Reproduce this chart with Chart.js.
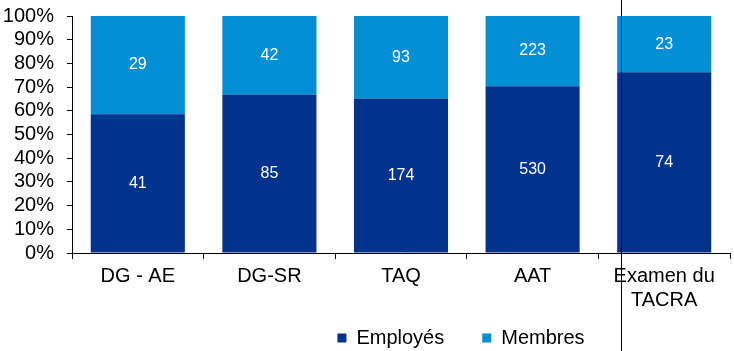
<!DOCTYPE html>
<html>
<head>
    <meta charset="utf-8">
    <title>Employés et membres</title>
    <style>
        body { margin: 0; background: #fff; }
        #wrap { width: 734px; height: 351px; }
    </style>
</head>
<body>
    <div id="wrap"><canvas id="chart"></canvas></div>

    <script src="https://cdn.jsdelivr.net/npm/chart.js"></script>
    <script>
        const categories = ['DG - AE', 'DG-SR', 'TAQ', 'AAT', ['Examen du', 'TACRA']];
        const employes = [41, 85, 174, 530, 74];
        const membres = [29, 42, 93, 223, 23];
        const yTicks = [0, 10, 20, 30, 40, 50, 60, 70, 80, 90, 100];

        // share of each group in its bar, in percent
        const pct = (arr) => arr.map((v, i) => v / (employes[i] + membres[i]) * 100);

        const counts = [employes, membres];
        const FONT = '"Liberation Sans", Arial, sans-serif';

        const barLabels = {
            id: 'barLabels',
            afterDatasetsDraw(chart) {
                const ctx = chart.ctx;
                ctx.save();
                ctx.fillStyle = '#fff';
                ctx.font = '16px ' + FONT;
                ctx.textAlign = 'center';
                ctx.textBaseline = 'middle';
                chart.data.datasets.forEach((ds, d) => {
                    chart.getDatasetMeta(d).data.forEach((bar, i) => {
                        const mid = (bar.y + bar.base) / 2;
                        ctx.fillText(counts[d][i], bar.x, mid);
                    });
                });
                ctx.restore();
            }
        };

        // thin vertical separator in front of the last category
        const separator = {
            id: 'separator',
            afterDraw(chart) {
                const x = Math.round(chart.scales.x.getPixelForValue(3.675)) + 0.5;
                const ctx = chart.ctx;
                ctx.save();
                ctx.strokeStyle = '#000';
                ctx.lineWidth = 1;
                ctx.beginPath();
                ctx.moveTo(x, 0);
                ctx.lineTo(x, chart.height);
                ctx.stroke();
                ctx.restore();
            }
        };

        // legend sits right of centre, as in the original
        const legendShift = {
            id: 'legendShift',
            afterLayout(chart) {
                const lg = chart.legend;
                lg.left += 96; lg.right += 96;
                lg.top -= 20; lg.bottom -= 20;
            }
        };

        new Chart(document.getElementById('chart'), {
            type: 'bar',
            data: {
                labels: categories,
                datasets: [{
                    label: 'Employés',
                    data: pct(employes),
                    backgroundColor: '#00338D'
                }, {
                    label: 'Membres',
                    data: pct(membres),
                    backgroundColor: '#008FD5'
                }]
            },
            options: {
                responsive: true,
                maintainAspectRatio: false,
                animation: false,
                categoryPercentage: 1,
                barPercentage: 0.715,
                layout: { padding: { top: 16, right: 4, left: 0, bottom: -27 } },
                plugins: {
                    tooltip: { enabled: false },
                    legend: {
                        position: 'bottom',
                        labels: {
                            boxWidth: 9,
                            boxHeight: 9,
                            padding: 38,
                            color: '#000',
                            font: { size: 20, family: FONT }
                        }
                    }
                },
                scales: {
                    x: {
                        stacked: true,
                        afterFit(scale) { scale.height = 57; },
                        grid: { offset: true, drawOnChartArea: false, color: '#000', tickLength: 6 },
                        border: { color: '#000' },
                        ticks: {
                            color: '#000',
                            padding: 5,
                            maxRotation: 0,
                            autoSkip: false,
                            font: { size: 20, family: FONT }
                        }
                    },
                    y: {
                        stacked: true,
                        min: 0,
                        max: 100,
                        afterBuildTicks(scale) {
                            scale.ticks = yTicks.map(v => ({ value: v }));
                        },
                        afterFit(scale) {
                            scale.width = 72;
                            scale.paddingTop = 0;
                        },
                        grid: { drawOnChartArea: false, color: '#000', tickLength: 5 },
                        border: { color: '#000' },
                        ticks: {
                            color: '#000',
                            padding: 13,
                            autoSkip: false,
                            callback: (v) => v + '%',
                            font: { size: 20, family: FONT }
                        }
                    }
                }
            },
            plugins: [barLabels, separator, legendShift]
        });
    </script>
</body>
</html>
